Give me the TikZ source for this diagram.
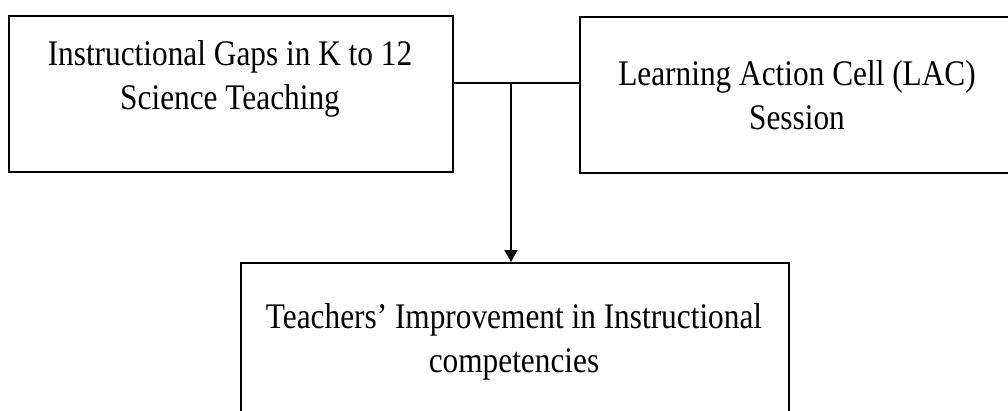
\documentclass[tikz,border=0pt]{standalone}
\usepackage{fontspec}
\newfontfamily\diagfont[FakeStretch=0.87]{Liberation Serif}
\usetikzlibrary{arrows.meta}
\begin{document}
\begin{tikzpicture}[x=1pt,y=-1pt,
  boxstyle/.style={draw=black, line width=2.2pt, rectangle, inner sep=0pt, anchor=north west},
  txt/.style={font=\diagfont\fontsize{36}{44}\selectfont, align=center, inner sep=0pt, anchor=base},
  conn/.style={draw=black, line width=1.8pt},
  arr/.style={conn, -{Triangle[width=13pt,length=12pt]}}]
\useasboundingbox (0,0) rectangle (1008,410);
\fill[white] (0,0) rectangle (1008,410);
\begin{scope}
\clip (0,0) rectangle (1008,410);
\node[boxstyle, minimum width=444pt, minimum height=156pt] (lbox) at (8,15) {};
\node[boxstyle, minimum width=436pt, minimum height=156pt] (rbox) at (579,16) {};
\node[boxstyle, minimum width=548pt, minimum height=160pt] (bbox) at (240,262) {};
\node[txt] (ltxt) at (230,109) {Instructional Gaps in K to 12\\Science Teaching};
\node[txt] (rtxt) at (797,129) {Learning Action Cell (LAC)\\Session};
\node[txt] (btxt) at (514,372) {Teachers’ Improvement in Instructional\\competencies};
\coordinate (j) at (511,83);
\draw[conn] (lbox.east |- j) -- (rbox.west |- j);
\draw[arr] (j) -- (bbox.north -| j);
\end{scope}
\end{tikzpicture}
\end{document}
